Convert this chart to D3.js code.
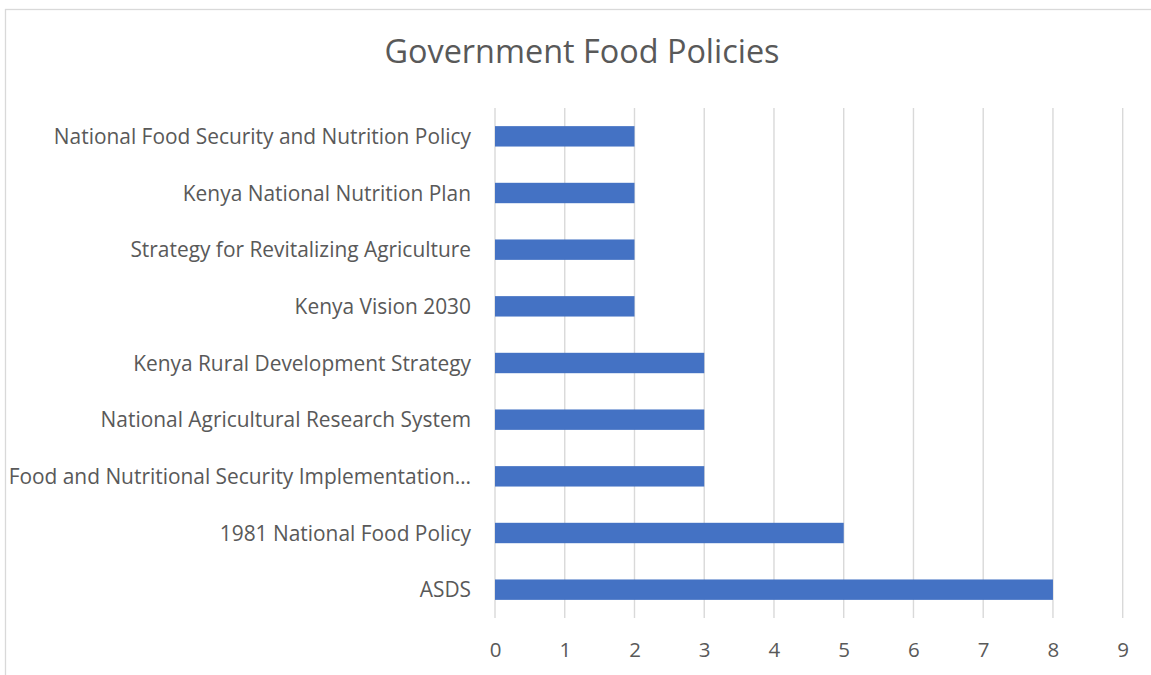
<!DOCTYPE html>
<html>
<head>
<meta charset="utf-8">
<script src="https://cdn.jsdelivr.net/npm/d3@7"></script>
<style>
  html, body { margin: 0; padding: 0; background: #fff; }
  svg { display: block; }
  text { font-family: "Open Sans", "Noto Sans", sans-serif; fill: #595959; }
</style>
</head>
<body>
<svg id="chart" width="1151" height="675"></svg>
<script>
// Policies, listed top to bottom as shown
const categories = [
  "National Food Security and Nutrition Policy",
  "Kenya National Nutrition Plan",
  "Strategy for Revitalizing Agriculture",
  "Kenya Vision 2030",
  "Kenya Rural Development Strategy",
  "National Agricultural Research System",
  "Food and Nutritional Security Implementation…",
  "1981 National Food Policy",
  "ASDS"
];
const values = [2, 2, 2, 2, 3, 3, 3, 5, 8];
const xTicks = [0, 1, 2, 3, 4, 5, 6, 7, 8, 9];
const title = "Government Food Policies";

const svg = d3.select("#chart");
const W = 1151, H = 675;
const plot = { left: 495, right: 1122.7, top: 108, bottom: 618 };

// Chart frame (extends past the visible edge on right and bottom)
svg.append("rect")
  .attr("x", 5.5).attr("y", 9.5)
  .attr("width", W + 50).attr("height", H + 50)
  .attr("fill", "none").attr("stroke", "#d9d9d9").attr("stroke-width", 1.3);

const x = d3.scaleLinear().domain([0, 9]).range([plot.left, plot.right]);
const y = d3.scaleBand().domain(categories).range([plot.top, plot.bottom]).paddingInner(0.64).paddingOuter(0.32);

// Vertical gridlines
svg.append("g").selectAll("line").data(xTicks).join("line")
  .attr("x1", d => x(d)).attr("x2", d => x(d))
  .attr("y1", plot.top).attr("y2", plot.bottom)
  .attr("stroke", "#d9d9d9").attr("stroke-width", 1.4);

// Bars
svg.append("g").selectAll("rect").data(values).join("rect")
  .attr("x", x(0))
  .attr("y", (d, i) => y(categories[i]))
  .attr("width", d => x(d) - x(0))
  .attr("height", y.bandwidth())
  .attr("fill", "#4472c4");

// X axis tick labels
const xAxis = d3.axisBottom(x).tickValues(xTicks).tickSize(0).tickPadding(0).tickFormat(d3.format("d"));
const gx = svg.append("g").attr("transform", `translate(0,${plot.bottom})`).call(xAxis);
gx.select(".domain").remove();
gx.selectAll("text")
  .attr("y", 39).attr("dy", null)
  .style("font-size", "20.5px").style("font-family", "\"Open Sans\", sans-serif").attr("fill", "#595959");

// Y axis category labels
const yAxis = d3.axisLeft(y).tickSize(0).tickPadding(24);
const gy = svg.append("g").attr("transform", `translate(${plot.left},0)`).call(yAxis);
gy.select(".domain").remove();
gy.selectAll("text")
  .attr("dy", "0.36em")
  .style("font-size", "20.9px").style("font-family", "\"Open Sans\", sans-serif").attr("fill", "#595959");

// Title
svg.append("text")
  .attr("x", 582).attr("y", 63)
  .attr("text-anchor", "middle")
  .style("font-size", "32.4px")
  .text(title);
</script>
</body>
</html>
